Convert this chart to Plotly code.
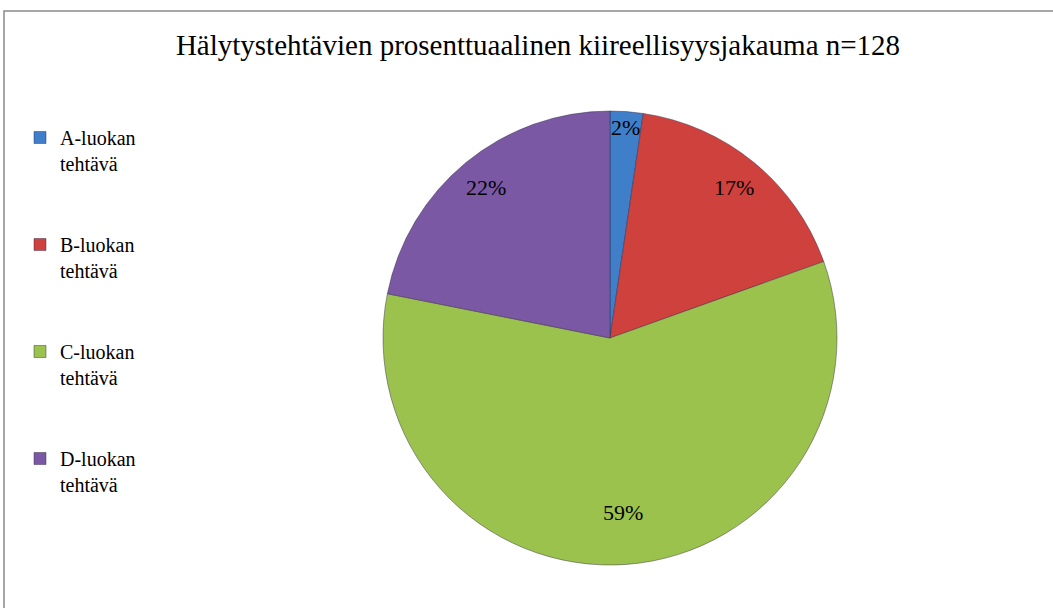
import math
import plotly.graph_objects as go

# ---- data ----
categories = ["A-luokan tehtävä", "B-luokan tehtävä", "C-luokan tehtävä", "D-luokan tehtävä"]
counts = [3, 22, 75, 28]          # n = 128
pct_labels = ["2%", "17%", "59%", "22%"]
title_text = "Hälytystehtävien prosenttuaalinen kiireellisyysjakauma n=128"

# ---- style ----
colors = ["#3F7FCA", "#CF413D", "#9CC24E", "#7A58A4"]
label_radius = [0.93, 0.86, 0.77, 0.86]
W, H = 1053, 608
cx, cy, R = 610, 338, 227
SERIF = "Liberation Serif, Times New Roman, serif"

legend_names = [c.replace(" ", "<br>") + "<br> <br> " for c in categories]

fig = go.Figure(go.Pie(
    labels=legend_names,
    values=counts,
    sort=False,
    direction="clockwise",
    rotation=0,
    marker=dict(colors=colors, line=dict(color="rgba(50,40,70,0.45)", width=1)),
    textinfo="none",
    hoverinfo="label+percent",
    domain=dict(x=[(cx - R) / W, (cx + R) / W], y=[1 - (cy + R) / H, 1 - (cy - R) / H]),
))

# percentage labels positioned at the mid-angle of each slice
total = sum(counts)
cum = 0
annotations = []
for v, lab, rf in zip(counts, pct_labels, label_radius):
    mid = (cum + v / 2) / total * 2 * math.pi
    cum += v
    px = cx + rf * R * math.sin(mid)
    py = cy - rf * R * math.cos(mid)
    annotations.append(dict(
        x=px / W, y=1 - py / H, xref="paper", yref="paper",
        xanchor="center", yanchor="middle",
        text=lab, showarrow=False,
        font=dict(family=SERIF, size=22, color="black"),
    ))

fig.update_layout(
    width=W, height=H,
    margin=dict(l=0, r=0, t=0, b=0),
    paper_bgcolor="white",
    plot_bgcolor="white",
    title=dict(text=title_text, x=538 / W, xanchor="center", y=1 - 45 / H, yanchor="middle",
               font=dict(family=SERIF, size=29, color="black")),
    showlegend=True,
    legend=dict(x=20 / W, y=1 - 118 / H, xanchor="left", yanchor="top",
                font=dict(family=SERIF, size=20, color="black"),
                valign="top", traceorder="normal", bgcolor="rgba(0,0,0,0)"),
    annotations=annotations,
    shapes=[dict(type="rect", xref="paper", yref="paper",
                 x0=4 / W, x1=1.02, y0=-0.02, y1=1 - 11 / H,
                 line=dict(color="#8a8a8a", width=1.5), fillcolor="rgba(0,0,0,0)", layer="below")],
)

fig.write_html("out.html")
